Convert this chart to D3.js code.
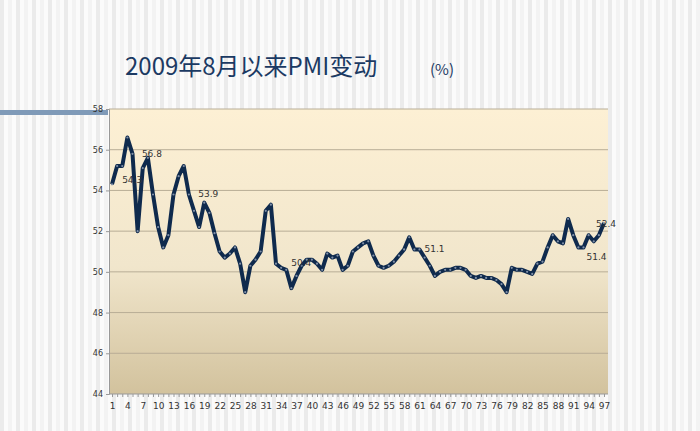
<!DOCTYPE html>
<html lang="en">
<head>
<meta charset="UTF-8">
<title>2009年8月以来PMI变动</title>
<script src="https://d3js.org/d3.v7.min.js"></script>
<style>
  body { margin: 0; background: #fff; }
  svg text { font-family: "DejaVu Sans", sans-serif; }
  .axis text { fill: #333; }
  .axis path, .axis line { stroke: #999; }
  .grid line { stroke: #b8ad96; }
  .title { font-family: "Noto Sans CJK SC", sans-serif !important; fill: #1b3a63; }
</style>
</head>
<body>
<div id="chart"></div>
<script>
// --- data (month index since Aug 2009, PMI %) ---
const months = d3.range(1, 98);
const pmi = [54.3,55.2,55.2,56.6,55.8,52.0,55.1,55.6,53.8,52.2,51.2,51.8,53.8,54.7,55.2,53.8,53.0,52.2,53.4,52.9,
  51.9,51.0,50.7,50.9,51.2,50.4,49.0,50.3,50.6,51.0,53.0,53.3,50.4,50.2,50.1,49.2,49.8,50.3,50.6,50.6,
  50.4,50.1,50.9,50.7,50.8,50.1,50.3,51.0,51.2,51.4,51.5,50.8,50.3,50.2,50.3,50.5,50.8,51.1,51.7,51.1,
  51.1,50.7,50.3,49.8,50.0,50.1,50.1,50.2,50.2,50.1,49.8,49.7,49.8,49.7,49.7,49.6,49.4,49.0,50.2,50.1,
  50.1,50.0,49.9,50.4,50.5,51.2,51.8,51.5,51.4,52.6,51.8,51.2,51.2,51.8,51.5,51.8,52.4];
const yTicks = [44, 46, 48, 50, 52, 54, 56, 58];
const xTicks = d3.range(1, 98, 3);
const labels = [
  {i: 2, text: "54.3", dx: 5, dy: 17},
  {i: 8, text: "56.8", dx: -6, dy: -1},
  {i: 19, text: "53.9", dx: -6, dy: -6},
  {i: 35, text: "50.4", dx: 5, dy: -4},
  {i: 61, text: "51.1", dx: 5, dy: 3},
  {i: 93, text: "51.4", dx: 3, dy: 13},
  {i: 97, text: "52.4", dx: -8, dy: 4}
];

const W = 700, H = 431;
const svg = d3.select("#chart").append("svg").attr("width", W).attr("height", H);

// striped background
svg.append("rect").attr("width", W).attr("height", H).attr("fill", "#fbfbfb");
const stripes = d3.range(0, W, 8);
svg.selectAll("rect.stripe").data(stripes).join("rect").attr("class", "stripe")
  .attr("x", d => d).attr("y", 0).attr("width", 4).attr("height", H)
  .attr("fill", (d, k) => k % 2 ? "#f3f3f3" : "#ebebeb");
svg.append("rect").attr("x", 0).attr("y", 110).attr("width", 108).attr("height", 5).attr("fill", "#7f9ab8");

// title
svg.append("text").attr("class", "title").attr("x", 125).attr("y", 75)
  .attr("font-size", 24).text("2009年8月以来PMI变动");
svg.append("text").attr("class", "title").attr("x", 430).attr("y", 75)
  .attr("font-size", 15).text("(%)");

const pLeft = 109, pRight = 608, pTop = 109, pBottom = 394;
const x = d3.scaleLinear().domain([1, 97]).range([112, 604]);
const y = d3.scaleLinear().domain([44, 58]).range([pBottom, pTop]);

const defs = svg.append("defs");
const grad = defs.append("linearGradient").attr("id", "bg").attr("x1", 0).attr("x2", 0).attr("y1", 0).attr("y2", 1);
grad.append("stop").attr("offset", "0%").attr("stop-color", "#fdf0d4");
grad.append("stop").attr("offset", "55%").attr("stop-color", "#f1e6cc");
grad.append("stop").attr("offset", "100%").attr("stop-color", "#d2c29d");
svg.append("rect").attr("x", pLeft).attr("y", pTop).attr("width", pRight - pLeft).attr("height", pBottom - pTop)
  .attr("fill", "url(#bg)");

svg.append("g").attr("class", "grid")
  .selectAll("line").data(yTicks.slice(1)).join("line")
  .attr("x1", pLeft).attr("x2", pRight).attr("y1", d => y(d)).attr("y2", d => y(d));

svg.append("g").attr("class", "axis").attr("transform", `translate(${pLeft},0)`)
  .call(d3.axisLeft(y).tickValues(yTicks).tickSize(3).tickFormat(d3.format("d")))
  .call(g => g.selectAll("text").attr("font-size", 8));
svg.append("g").attr("class", "axis").attr("transform", `translate(0,${pBottom})`)
  .call(d3.axisBottom(x).tickValues(months).tickSize(3).tickFormat(d => xTicks.includes(d) ? d : ""))
  .call(g => g.select(".domain").attr("d", `M${pLeft},0H${pRight}`))
  .call(g => g.selectAll("text").attr("font-size", 9).attr("dy", "1em"));

const line = d3.line().x((d, k) => x(months[k])).y(d => y(d));
svg.append("path").datum(pmi).attr("d", line)
  .attr("fill", "none").attr("stroke", "#0f2a4d").attr("stroke-width", 4).attr("stroke-linejoin", "round");
svg.selectAll("circle.pt").data(pmi).join("circle").attr("class", "pt")
  .attr("cx", (d, k) => x(months[k])).attr("cy", d => y(d)).attr("r", 1.1).attr("fill", "#8090a8");

svg.selectAll("text.lbl").data(labels).join("text").attr("class", "lbl")
  .attr("x", d => x(d.i) + d.dx).attr("y", d => y(pmi[d.i - 1]) + d.dy)
  .attr("font-size", 9).attr("fill", "#333").text(d => d.text);
</script>
</body>
</html>
